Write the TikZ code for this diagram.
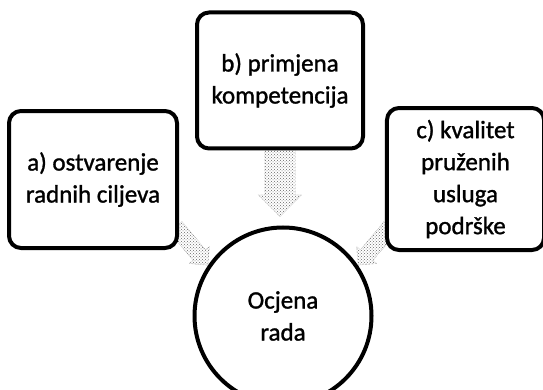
\documentclass[tikz,border=0pt]{standalone}
\usepackage{fontspec}
\setmainfont{Carlito}[FakeBold=1.2]
\usetikzlibrary{positioning,shapes.arrows,patterns,backgrounds}

\begin{document}
\begin{tikzpicture}[
  x=1pt, y=1pt,
  box/.style={rectangle, rounded corners=12pt, draw=black, line width=4pt, fill=white, align=center, inner sep=0pt, font=\fontsize{25}{32}\selectfont},
  krug/.style={circle, draw=black, line width=4pt, fill=white, minimum size=177pt, align=center, inner sep=0pt, font=\fontsize{25}{32}\selectfont},
  blockarrow/.style={single arrow, draw=black!55, densely dotted, thin, pattern=crosshatch dots, pattern color=black!60, inner xsep=0pt, single arrow head indent=0pt}
]
\useasboundingbox (0,0) rectangle (543,390);

\node[krug] (ocjena) at (283,74) {Ocjena\\rada};
\node[box, minimum width=166pt, minimum height=136pt, above=75pt of ocjena, xshift=-3pt] (primjena) {b) primjena\\kompetencija};
\node[box, minimum width=168pt, minimum height=137pt, above left=2pt and 40pt of ocjena] (ciljevi) {a) ostvarenje\\radnih ciljeva};
\node[box, minimum width=157pt, minimum height=142pt, above right=0pt and 38pt of ocjena] (podrska) {c) kvalitet\\pruženih\\usluga\\podrške};

\node[blockarrow, inner ysep=15pt, single arrow head extend=6.5pt, minimum height=66pt, rotate=-90, anchor=tail] (strelicaB) at (primjena.south) {};
\begin{scope}[on background layer]
  \node[blockarrow, inner ysep=8pt, single arrow head extend=5pt, minimum height=50pt, rotate=-50, anchor=tip] (strelicaA) at (ocjena.146) {};
  \node[blockarrow, inner ysep=8pt, single arrow head extend=5pt, minimum height=50pt, rotate=-130, anchor=tip] (strelicaC) at (ocjena.34) {};
\end{scope}
\end{tikzpicture}
\end{document}
